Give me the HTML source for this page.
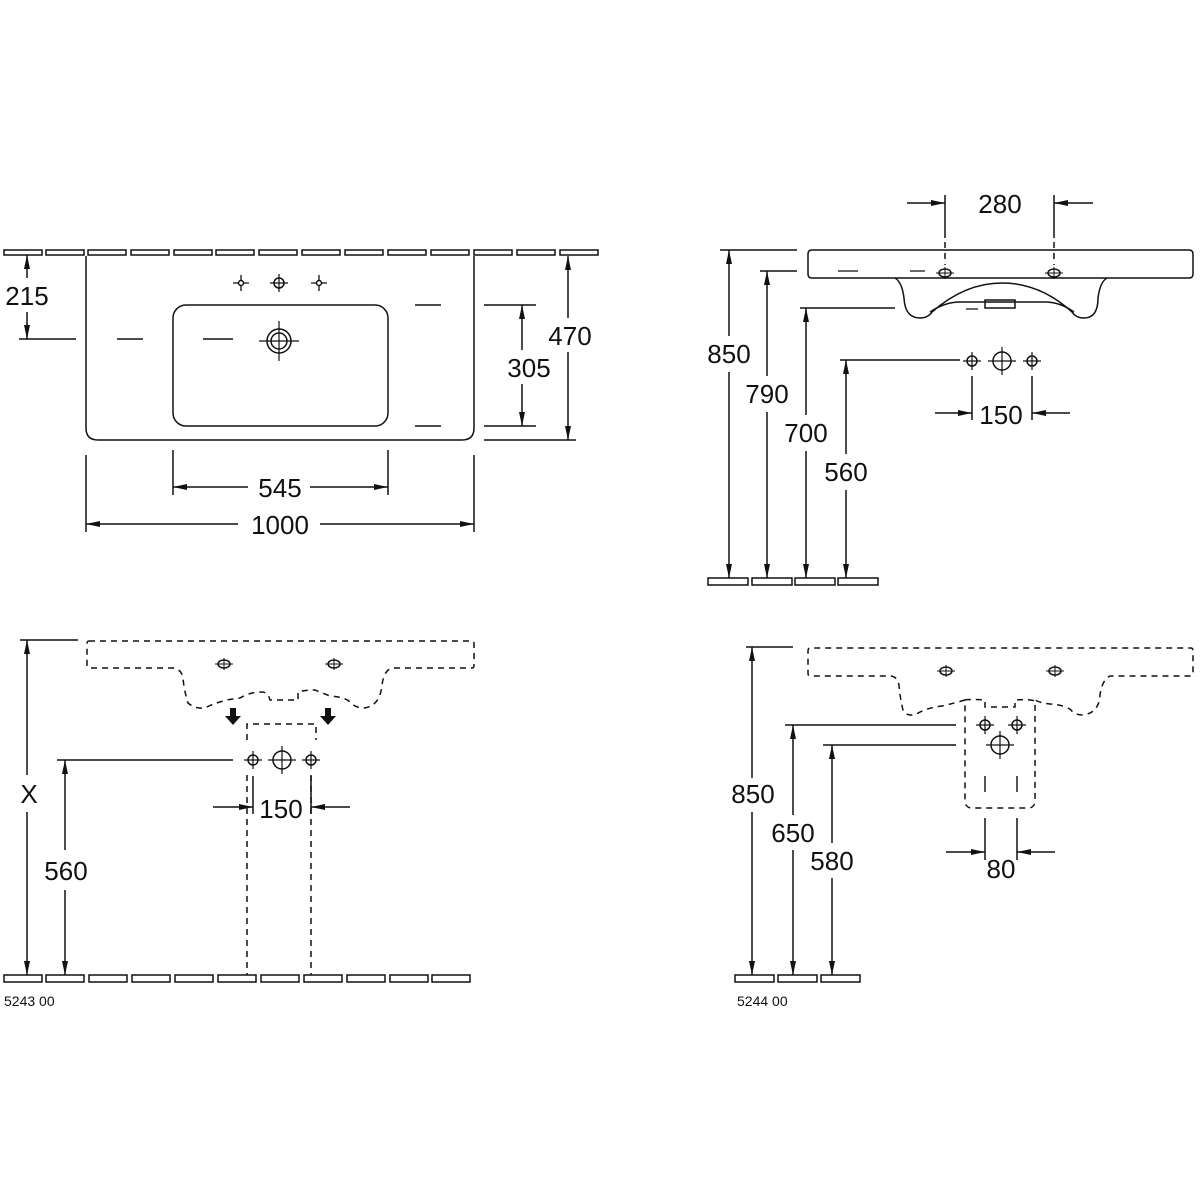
<!DOCTYPE html>
<html><head><meta charset="utf-8"><style>
html,body{margin:0;padding:0;background:#fff;}
svg{display:block;}
text{font-family:"Liberation Sans",Arial,sans-serif;fill:#111;}
</style></head><body>
<svg width="1200" height="1200" viewBox="0 0 1200 1200" xmlns="http://www.w3.org/2000/svg">
<defs>
<marker id="a" viewBox="0 0 14 6" refX="14" refY="3" markerWidth="14" markerHeight="6" orient="auto-start-reverse" markerUnits="userSpaceOnUse"><path d="M0,0 L14,3 L0,6 z" fill="#111"/></marker>
<g id="tap"><circle r="5" fill="none" stroke="#111" stroke-width="1.5"/><path d="M-9,0H9M0,-9V9" stroke="#111" stroke-width="1.2"/></g>
<g id="tapB"><circle r="9" fill="none" stroke="#111" stroke-width="1.5"/><path d="M-14,0H14M0,-14V14" stroke="#111" stroke-width="1.2"/></g>
<g id="cr"><path d="M-8,0H8M0,-8V8" stroke="#111" stroke-width="1.3"/><circle r="2.5" fill="#fff"/></g>
<g id="ov"><ellipse rx="6" ry="4" fill="none" stroke="#111" stroke-width="1.5"/><path d="M-9,0H9M0,-6V6" stroke="#111" stroke-width="1"/></g>
</defs>
<g stroke="#111" stroke-width="1.5" fill="none">
<!-- ===== TOP LEFT ===== -->
<g>
<rect x="4" y="250" width="38" height="5"/><rect x="46" y="250" width="38" height="5"/><rect x="88" y="250" width="38" height="5"/><rect x="131" y="250" width="38" height="5"/><rect x="174" y="250" width="38" height="5"/><rect x="216" y="250" width="38" height="5"/><rect x="259" y="250" width="38" height="5"/><rect x="302" y="250" width="38" height="5"/><rect x="345" y="250" width="38" height="5"/><rect x="388" y="250" width="38" height="5"/><rect x="431" y="250" width="38" height="5"/><rect x="474" y="250" width="38" height="5"/><rect x="517" y="250" width="38" height="5"/><rect x="560" y="250" width="38" height="5"/>
</g>
<path d="M86,256 V428 Q86,440 98,440 H462 Q474,440 474,428 V256"/>
<rect x="173" y="305" width="215" height="121" rx="13"/>
<use href="#cr" x="241" y="283"/><use href="#tap" x="279" y="283"/><use href="#cr" x="319" y="283"/>
<circle cx="279" cy="341" r="12"/><circle cx="279" cy="341" r="8"/><path d="M259,341H299M279,321V361" stroke-width="1.2"/>
<path d="M19,339H76M117,339H143M203,339H233M415,305H441M484,305H536M415,426H441M484,426H536M484,440H576"/>
<line x1="27" y1="255" x2="27" y2="278" marker-start="url(#a)"/>
<line x1="27" y1="312" x2="27" y2="339" marker-end="url(#a)"/>
<line x1="568" y1="256" x2="568" y2="318" marker-start="url(#a)"/>
<line x1="568" y1="352" x2="568" y2="440" marker-end="url(#a)"/>
<line x1="522" y1="305" x2="522" y2="350" marker-start="url(#a)"/>
<line x1="522" y1="384" x2="522" y2="426" marker-end="url(#a)"/>
<path d="M173,450V495M388,450V495M86,455V532M474,455V532"/>
<line x1="173" y1="487" x2="248" y2="487" marker-start="url(#a)"/>
<line x1="310" y1="487" x2="388" y2="487" marker-end="url(#a)"/>
<line x1="86" y1="524" x2="238" y2="524" marker-start="url(#a)"/>
<line x1="320" y1="524" x2="474" y2="524" marker-end="url(#a)"/>

<!-- ===== TOP RIGHT ===== -->
<path d="M812,250 H1189 Q1193,250 1193,254 V274 Q1193,278 1189,278 H812 Q808,278 808,274 V254 Q808,250 812,250 Z"/>
<path d="M895,278 Q902,282 904,298 Q905,318 920,318 Q928,318 932,312 Q965,283 1002,283 Q1040,283 1072,312 Q1076,318 1084,318 Q1098,318 1098,298 Q1100,282 1107,278"/>
<path d="M930,312 Q945,302 960,302 M1045,302 Q1060,302 1074,312 M960,302 H1045"/>
<rect x="985" y="300" width="30" height="8"/>
<path d="M838,271H858M910,271H925M966,309H978" stroke-width="1.2"/>
<use href="#ov" x="945" y="273"/><use href="#ov" x="1054" y="273"/>
<path d="M945,242V265M1054,242V265" stroke-dasharray="6,5"/>
<path d="M945,195V238M1054,195V238"/>
<line x1="907" y1="203" x2="945" y2="203" marker-end="url(#a)"/>
<line x1="1093" y1="203" x2="1054" y2="203" marker-end="url(#a)"/>
<path d="M720,250H797M760,271H797M800,308H895M840,360H960"/>
<line x1="729" y1="250" x2="729" y2="336" marker-start="url(#a)"/><line x1="729" y1="372" x2="729" y2="578" marker-end="url(#a)"/>
<line x1="767" y1="271" x2="767" y2="376" marker-start="url(#a)"/><line x1="767" y1="412" x2="767" y2="578" marker-end="url(#a)"/>
<line x1="806" y1="308" x2="806" y2="415" marker-start="url(#a)"/><line x1="806" y1="451" x2="806" y2="578" marker-end="url(#a)"/>
<line x1="846" y1="360" x2="846" y2="454" marker-start="url(#a)"/><line x1="846" y1="490" x2="846" y2="578" marker-end="url(#a)"/>
<rect x="708" y="578" width="40" height="7"/><rect x="752" y="578" width="40" height="7"/><rect x="795" y="578" width="40" height="7"/><rect x="838" y="578" width="40" height="7"/>
<use href="#tap" x="972" y="361"/><use href="#tapB" x="1002" y="361"/><use href="#tap" x="1032" y="361"/>
<path d="M972,376V420M1032,376V420"/>
<line x1="935" y1="413" x2="972" y2="413" marker-end="url(#a)"/>
<line x1="1070" y1="413" x2="1032" y2="413" marker-end="url(#a)"/>

<!-- ===== BOTTOM LEFT ===== -->
<g stroke-dasharray="6,5">
<path d="M89,641 H472 Q474,641 474,644 V666 Q474,668 471,668 H392 Q384,670 382,685 Q380,706 364,708 Q355,708 350,702 Q345,697 330,696 Q320,692 315,690 Q305,690 298,692 V700 H270 Q268,692 262,692 Q250,692 240,698 Q220,700 205,708 Q195,709 188,703 Q184,690 183,678 Q181,668 172,668 H90 Q87,668 87,665 V644 Q87,641 89,641 Z"/>
<path d="M247,740 V724 H316 V740 M247,775 V975 M311,775 V975"/>
</g>
<path d="M230,708h6v8h5l-8,9-8-9h5z M325,708h6v8h5l-8,9-8-9h5z" fill="#111" stroke="none"/>
<use href="#ov" x="224" y="664"/><use href="#ov" x="334" y="664"/>
<use href="#tap" x="253" y="760"/><use href="#tapB" x="282" y="760"/><use href="#tap" x="311" y="760"/>
<path d="M20,640H78M57,760H233M253,776V814M311,776V814"/>
<line x1="27" y1="640" x2="27" y2="775" marker-start="url(#a)"/><line x1="27" y1="812" x2="27" y2="975" marker-end="url(#a)"/>
<line x1="65" y1="760" x2="65" y2="850" marker-start="url(#a)"/><line x1="65" y1="890" x2="65" y2="975" marker-end="url(#a)"/>
<line x1="213" y1="807" x2="253" y2="807" marker-end="url(#a)"/>
<line x1="350" y1="807" x2="311" y2="807" marker-end="url(#a)"/>
<g>
<rect x="4" y="975" width="38" height="7"/><rect x="46" y="975" width="38" height="7"/><rect x="89" y="975" width="38" height="7"/><rect x="132" y="975" width="38" height="7"/><rect x="175" y="975" width="38" height="7"/><rect x="218" y="975" width="38" height="7"/><rect x="261" y="975" width="38" height="7"/><rect x="304" y="975" width="38" height="7"/><rect x="347" y="975" width="38" height="7"/><rect x="390" y="975" width="38" height="7"/><rect x="432" y="975" width="38" height="7"/>
</g>

<!-- ===== BOTTOM RIGHT ===== -->
<g stroke-dasharray="6,5">
<path d="M965,700 Q955,703 942,706 Q925,708 915,715 Q905,716 903,710 Q900,698 899,685 Q897,676 890,676 H810 Q808,676 808,673 V651 Q808,648 810,648 H1191 Q1193,648 1193,651 V673 Q1193,676 1190,676 H1110 Q1102,680 1100,695 Q1099,713 1083,715 Q1075,715 1071,710 Q1065,705 1050,704 Q1040,703 1035,700"/>
<path d="M965,700 Q970,699 985,700 V707 H1015 V700 Q1030,699 1035,701 V800 Q1035,808 1028,808 H972 Q965,808 965,800 Z"/>
</g>
<path d="M985,776V792M1017,776V792" stroke-width="1.4"/>
<use href="#ov" x="946" y="671"/><use href="#ov" x="1055" y="671"/>
<use href="#tap" x="985" y="725"/><use href="#tap" x="1017" y="725"/><use href="#tapB" x="1000" y="745"/>
<path d="M746,647H793M785,725H956M823,745H956M985,818V860M1017,818V860"/>
<line x1="752" y1="647" x2="752" y2="778" marker-start="url(#a)"/><line x1="752" y1="812" x2="752" y2="975" marker-end="url(#a)"/>
<line x1="793" y1="725" x2="793" y2="815" marker-start="url(#a)"/><line x1="793" y1="850" x2="793" y2="975" marker-end="url(#a)"/>
<line x1="832" y1="745" x2="832" y2="843" marker-start="url(#a)"/><line x1="832" y1="878" x2="832" y2="975" marker-end="url(#a)"/>
<line x1="946" y1="852" x2="985" y2="852" marker-end="url(#a)"/>
<line x1="1055" y1="852" x2="1017" y2="852" marker-end="url(#a)"/>
<rect x="735" y="975" width="39" height="7"/><rect x="778" y="975" width="39" height="7"/><rect x="821" y="975" width="39" height="7"/>
</g>
<g font-size="26" text-anchor="middle">
<text x="27" y="305">215</text>
<text x="570" y="345">470</text>
<text x="529" y="377">305</text>
<text x="280" y="497">545</text>
<text x="280" y="534">1000</text>
<text x="1000" y="213">280</text>
<text x="729" y="363">850</text>
<text x="767" y="403">790</text>
<text x="806" y="442">700</text>
<text x="846" y="481">560</text>
<text x="1001" y="424">150</text>
<text x="29" y="803">X</text>
<text x="66" y="880">560</text>
<text x="281" y="818">150</text>
<text x="753" y="803">850</text>
<text x="793" y="842">650</text>
<text x="832" y="870">580</text>
<text x="1001" y="878">80</text>
</g>
<g font-size="14">
<text x="4" y="1006">5243 00</text>
<text x="737" y="1006">5244 00</text>
</g>
</svg>
</body></html>
